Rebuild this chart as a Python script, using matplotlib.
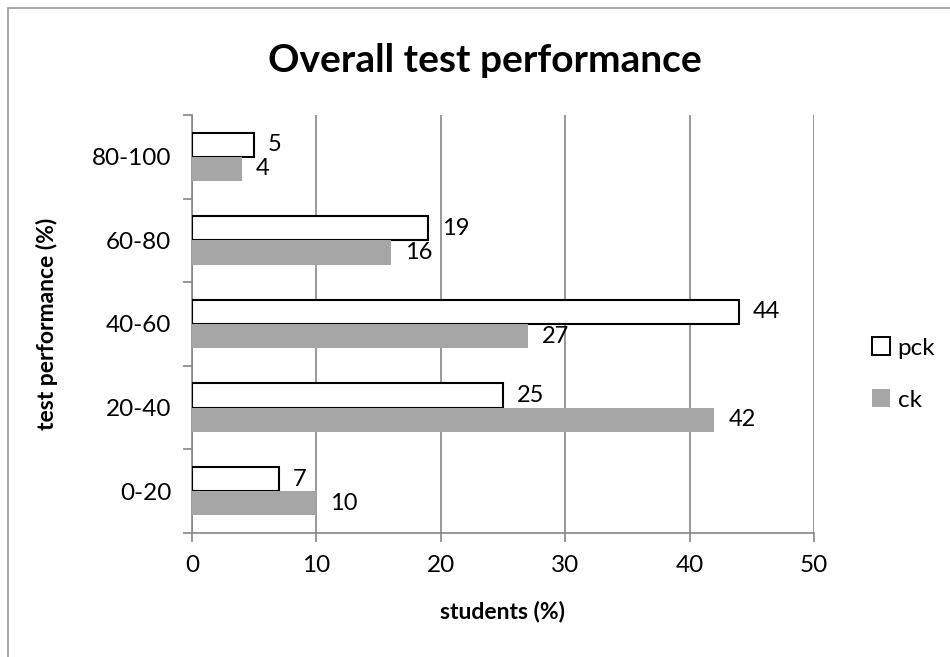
import matplotlib.pyplot as plt
from matplotlib.patches import Patch, Rectangle
import numpy as np

# data
categories = ['0-20', '20-40', '40-60', '60-80', '80-100']
pck = [7, 25, 44, 19, 5]
ck = [10, 42, 27, 16, 4]

plt.rcParams['font.family'] = ['Lato', 'DejaVu Sans']

fig = plt.figure(figsize=(9.5, 6.57), dpi=100)
ax = fig.add_axes([192 / 950, 124 / 657, 622 / 950, 418 / 657])

# chart border (right and bottom edges run off the picture)
fig.patches.append(Rectangle((8 / 950, -0.1), 1.1, 1.1 - 8 / 657, transform=fig.transFigure,
                             fill=False, edgecolor='#9a9a9a', linewidth=1.2))

y = np.arange(len(categories))
h = 0.29
bars_pck = ax.barh(y + h / 2, pck, height=h, color='white', edgecolor='black', linewidth=1.5,
                   label='pck', zorder=3)
bars_ck = ax.barh(y - h / 2, ck, height=h, color='#a6a6a6', linewidth=0, label='ck', zorder=3)

# value labels
for b, v in zip(bars_pck, pck):
    ax.annotate(str(v), (v, b.get_y() + b.get_height() / 2), xytext=(10, 0),
                textcoords='offset points', va='center', ha='left', fontsize=17)
for b, v in zip(bars_ck, ck):
    ax.annotate(str(v), (v, b.get_y() + b.get_height() / 2), xytext=(10, 0),
                textcoords='offset points', va='center', ha='left', fontsize=17)

ax.set_xlim(0, 50)
ax.set_ylim(-0.5, len(categories) - 0.5)
ax.set_xticks(range(0, 51, 10))
ax.set_yticks(y)
ax.set_yticklabels(categories)
ax.set_yticks(np.arange(-0.5, len(categories)), minor=True)
ax.tick_params(axis='y', which='major', length=0, pad=15, labelsize=17.5)
ax.tick_params(axis='y', which='minor', length=6.5, color='#868686', width=1.2)
ax.tick_params(axis='x', length=6.5, color='#868686', width=1.2, pad=9, labelsize=17.5)

# grid
ax.grid(axis='x', color='#868686', linewidth=1.2, zorder=0)
ax.set_axisbelow(True)

for s in ['top', 'right']:
    ax.spines[s].set_visible(False)
for s in ['left', 'bottom']:
    ax.spines[s].set_color('#868686')
    ax.spines[s].set_linewidth(1.2)

ax.set_xlabel('students (%)', fontsize=16.5, fontweight='bold', labelpad=18)
ax.set_ylabel('test performance (%)', fontsize=16.5, fontweight='bold', labelpad=24)

fig.text(485 / 950, 1 - 60 / 657, 'Overall test performance', ha='center', va='center',
         fontsize=28, fontweight='bold')

handles = [Patch(facecolor='white', edgecolor='black', linewidth=1.4, label='pck'),
           Patch(facecolor='#a6a6a6', edgecolor='none', label='ck')]
fig.legend(handles=handles, loc='center left', bbox_to_anchor=(0.918, 1 - 374 / 657),
           frameon=False, fontsize=17.5, handlelength=0.75, handleheight=0.75,
           handletextpad=0.3, labelspacing=1.25, borderaxespad=0, borderpad=0)

fig.savefig('out.png', dpi=100)
